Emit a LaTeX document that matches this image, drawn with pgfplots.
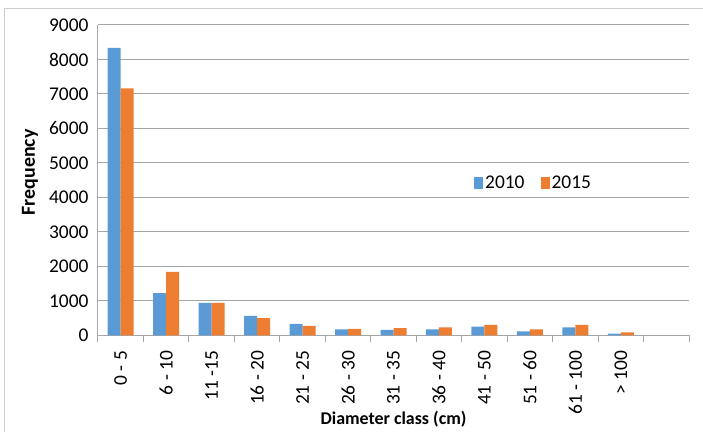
\documentclass[border=0pt]{standalone}
\usepackage{fontspec}
\setmainfont{Carlito}
\usepackage{pgfplots}
\pgfplotsset{compat=1.18}
\definecolor{b10}{HTML}{5B9BD5}
\definecolor{o15}{HTML}{ED7D31}
\definecolor{gridc}{HTML}{A6A6A6}
\definecolor{framec}{HTML}{CCCCCC}

% x = category centre, then 2010 and 2015
\pgfplotstableread{
x     y10   y15
0.5   8340  7160
1.5   1220  1840
2.5   940   940
3.5   560   500
4.5   330   270
5.5   175   190
6.5   155   210
7.5   175   230
8.5   250   300
9.5   115   175
10.5  230   300
11.5  45    85
}\diam

\begin{document}
\begin{tikzpicture}
\useasboundingbox (-98bp,-96.7bp) rectangle (605bp,335.3bp);
\draw[framec, line width=1.3bp] (-93.7bp,-96.7bp) -- (-93.7bp,326.6bp) -- (605bp,326.6bp);
\begin{axis}[
  at={(0,0)}, anchor=south west,
  scale only axis, width=591bp, height=310.3bp,
  xmin=0, xmax=13, ymin=0, ymax=9000,
  ybar=0pt, bar width=13bp,
  ytick={0,1000,...,9000},
  xtick={0.5,1.5,...,11.5},
  xticklabels={0 - 5, 6 - 10, 11 -15, 16 - 20, 21 - 25, 26 - 30, 31 - 35, 36 - 40, 41 - 50, 51 - 60, 61 - 100, > 100},
  minor xtick={0,1,...,13},
  major tick length=0pt, minor tick length=7bp,
  tick align=outside, tick pos=left,
  tick style={gridc, line width=1bp},
  axis x line*=bottom, axis y line*=left,
  axis line style={gridc, line width=1bp, -},
  ymajorgrids, grid style={gridc, line width=1bp},
  scaled y ticks=false,
  /pgf/number format/1000 sep={},
  /pgf/number format/assume math mode=true,
  ticklabel style={font=\fontsize{19.5}{22}\selectfont},
  yticklabel shift=6bp,
  xticklabel style={rotate=90, anchor=east},
  xticklabel shift=12bp,
  xlabel={\bfseries Diameter class (cm)},
  ylabel={\bfseries Frequency},
  label style={font=\fontsize{18}{21}\selectfont},
  xlabel style={at={(axis description cs:0.5,-0.271)}, anchor=center},
  ylabel style={at={(axis description cs:-0.115,0.525)}, anchor=center,
    font=\fontsize{20}{23}\selectfont},
  legend style={at={(0.737,0.49)}, anchor=center, draw=none, fill=none,
    font=\fontsize{19.5}{22}\selectfont, legend columns=2,
    /tikz/every even column/.append style={column sep=14bp}},
]
\addplot[fill=b10, draw=none,
  legend image code/.code={\fill[b10] (0bp,-6bp) rectangle (9bp,6bp);}]
  table[x=x, y=y10] {\diam};
\addlegendentry{2010}
\addplot[fill=o15, draw=none,
  legend image code/.code={\fill[o15] (0bp,-6bp) rectangle (9bp,6bp);}]
  table[x=x, y=y15] {\diam};
\addlegendentry{2015}
\end{axis}
\end{tikzpicture}
\end{document}
